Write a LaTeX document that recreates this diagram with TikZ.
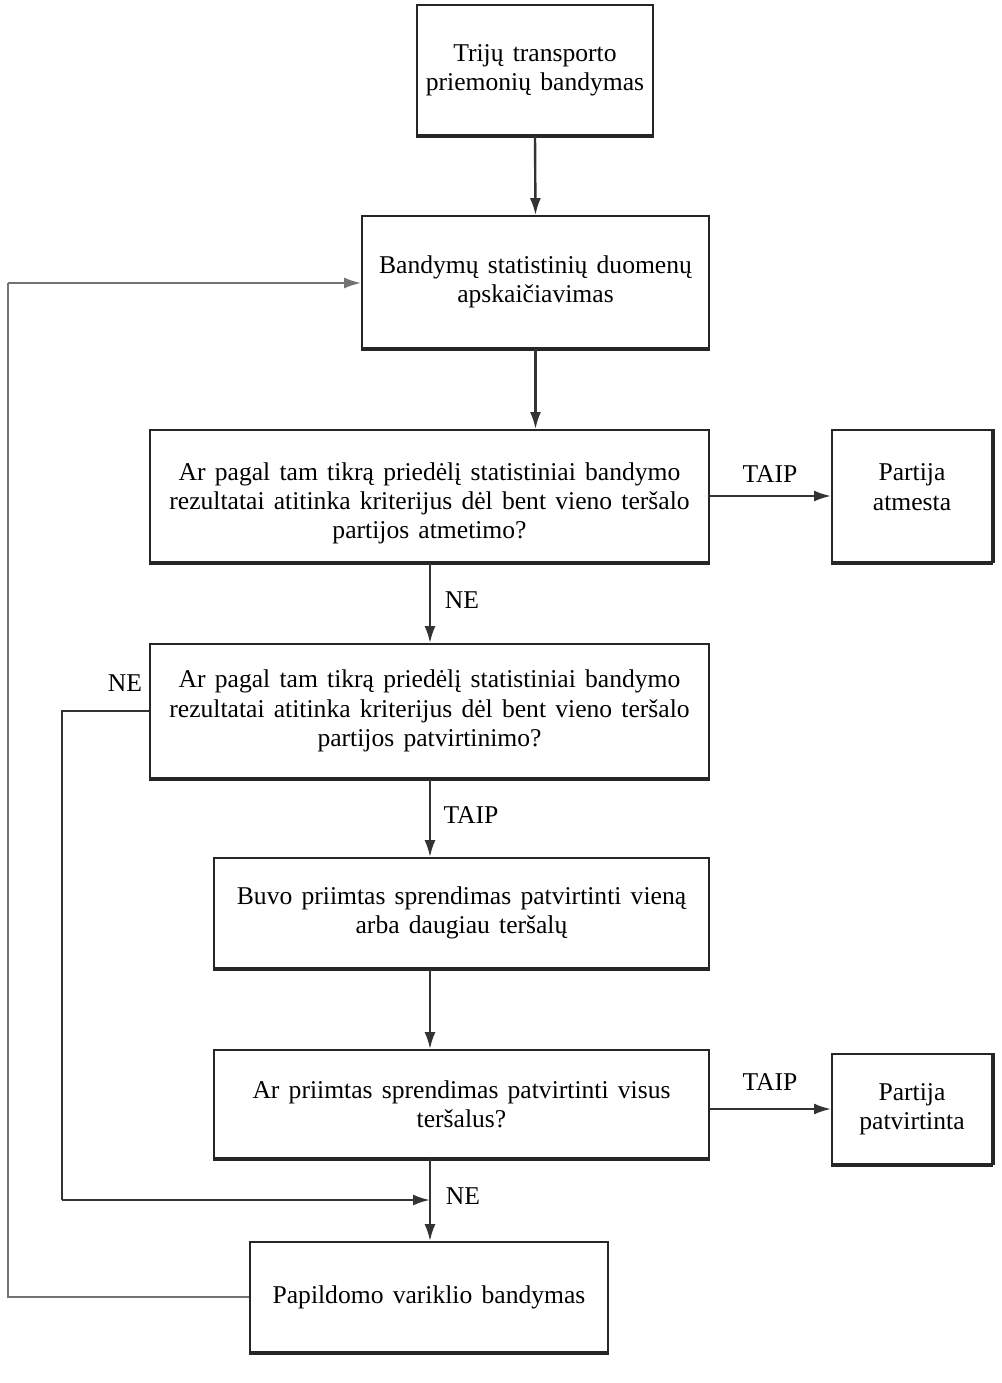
\documentclass[tikz,border=0pt]{standalone}
\usepackage{fontspec}
\setmainfont{Liberation Serif}
\usetikzlibrary{arrows.meta}
\newcommand\boxfont{\fontsize{12.8}{14.6}\selectfont\spaceskip=0.36em\relax}
\begin{document}
\begin{tikzpicture}[x=0.5pt,y=-0.5pt,
  box/.style={draw=black!85, line width=0.9pt, fill=white, align=center, inner sep=0pt,
    font=\boxfont},
  bottomedge/.style={draw=black!85, line width=1.6pt},
  conn/.style={draw=black!80, line width=1.2pt, -{Latex[length=8.5pt,width=5.5pt]}},
  plain/.style={draw=black!80, line width=1.2pt},
  back/.style={draw=black!55, line width=1pt},
  lbl/.style={font=\fontsize{12.8}{14.6}\selectfont, inner sep=0pt}]
\useasboundingbox (0,0) rectangle (1002,1383);
\node[box, minimum width=118pt, minimum height=65pt] (b1) at (535,70) {Trijų transporto\\priemonių bandymas};
\node[box, minimum width=173.5pt, minimum height=66pt] (b2) at (535.5,282) {Bandymų statistinių duomenų\\apskaičiavimas};
\node[box, minimum width=279.5pt, minimum height=66pt] (b3) at (429.5,496) {\rule{0pt}{16pt}Ar pagal tam tikrą priedėlį statistiniai bandymo\\rezultatai atitinka kriterijus dėl bent vieno teršalo\\partijos atmetimo?};
\node[box, minimum width=80pt, minimum height=66pt] (b4) at (912,496) {Partija\\atmesta\rule[-9pt]{0pt}{9pt}};
\node[box, minimum width=279.5pt, minimum height=67pt] (b5) at (429.5,711) {Ar pagal tam tikrą priedėlį statistiniai bandymo\\rezultatai atitinka kriterijus dėl bent vieno teršalo\\partijos patvirtinimo?};
\node[box, minimum width=247.5pt, minimum height=55pt] (b6) at (461.5,913) {Buvo priimtas sprendimas patvirtinti vieną\\arba daugiau teršalų};
\node[box, minimum width=247.5pt, minimum height=54pt] (b7) at (461.5,1104) {Ar priimtas sprendimas patvirtinti visus\\teršalus?};
\node[box, minimum width=80pt, minimum height=55pt] (b8) at (912,1109) {Partija\\patvirtinta};
\node[box, minimum width=179pt, minimum height=55pt] (b9) at (429,1297) {Papildomo variklio bandymas};
\foreach \n in {b1,b2,b3,b4,b5,b6,b7,b8,b9}
  \draw[bottomedge] (\n.south west) -- (\n.south east);
\draw[line width=1.6pt, black!85] (b4.south east) -- (b4.north east);
\draw[line width=1.6pt, black!85] (b8.south east) -- (b8.north east);
% connectors
\coordinate (cx) at (430,0);
\draw[conn] (b1.south) -- (b2.north);
\draw[conn] (b2.south) -- (b2.south |- b3.north);
\draw[conn] (b3.south -| cx) -- (b5.north -| cx);
\draw[conn] (b3.east) -- (b4.west);
\draw[conn] (b5.south -| cx) -- (b6.north -| cx);
\draw[conn] (b6.south -| cx) -- (b7.north -| cx);
\draw[conn] (b7.east |- b8.west) -- (b8.west);
\draw[conn] (b7.south -| cx) -- (b9.north -| cx);
\coordinate (l1) at (62,711);
\coordinate (l2) at (62,1200);
\coordinate (j) at (430,1200);
\draw[plain] (b5.west |- l1) -- (l1) -- (l2);
\draw[conn] (l2) -- (j);
\coordinate (r1) at (8,1297);
\coordinate (r2) at (8,283);
\draw[back] (b9.west |- r1) -- (r1) -- (r2);
\draw[back, -{Latex[length=8.5pt,width=5.5pt]}] (r2) -- (b2.west |- r2);
% labels
\node[lbl] (t1) at (770,474) {TAIP};
\node[lbl] (n1) at (462,600) {NE};
\node[lbl] (n2) at (125,683) {NE};
\node[lbl] (t2) at (471,815) {TAIP};
\node[lbl] (t3) at (770,1082) {TAIP};
\node[lbl] (n3) at (463,1196) {NE};
\end{tikzpicture}
\end{document}
